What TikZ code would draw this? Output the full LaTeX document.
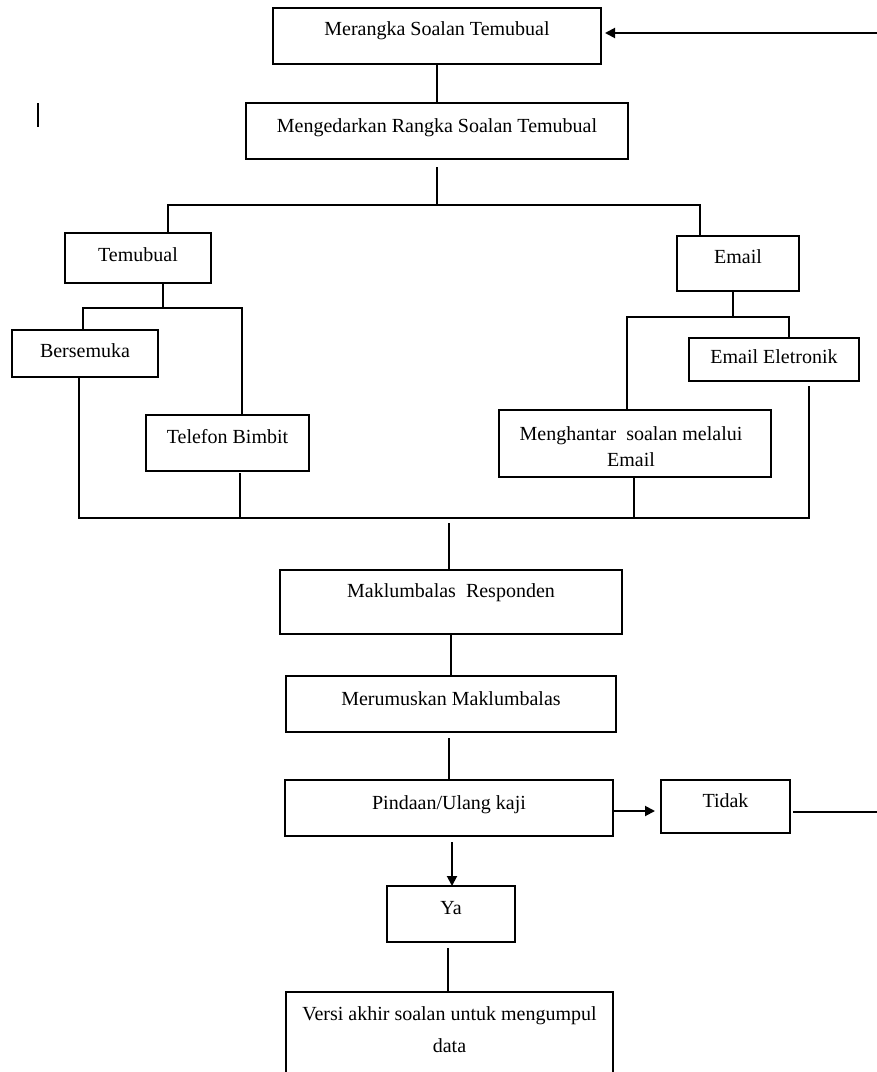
\documentclass[tikz,border=0pt]{standalone}
\usepackage{fontspec}
\setmainfont{Liberation Serif}
\usetikzlibrary{arrows.meta}
\begin{document}
\begin{tikzpicture}[x=1pt,y=-1pt,
  box/.style={draw, line width=1.9pt, rectangle, inner sep=0pt, outer sep=0pt},
  txt/.style={anchor=base, inner sep=0pt, font=\fontsize{20}{24}\selectfont},
  ln/.style={line width=1.9pt},
  arr/.style={line width=1.9pt, -{Triangle[length=10pt,width=10pt]}}]
\useasboundingbox (0,0) rectangle (877,1072);
% boxes
\node[box, minimum width=328pt, minimum height=56pt] (b1) at (437,36) {};
\node[box, minimum width=382pt, minimum height=56pt] (b2) at (437,131) {};
\node[box, minimum width=146pt, minimum height=50pt] (tem) at (138,258) {};
\node[box, minimum width=146pt, minimum height=47pt] (bers) at (85,353.5) {};
\node[box, minimum width=163pt, minimum height=56pt] (tel) at (227.5,443) {};
\node[box, minimum width=122pt, minimum height=55pt] (em) at (738,263.5) {};
\node[box, minimum width=170pt, minimum height=43pt] (eel) at (774,359.5) {};
\node[box, minimum width=272pt, minimum height=67pt] (meng) at (635,443.5) {};
\node[box, minimum width=342pt, minimum height=64pt] (mak) at (451,602) {};
\node[box, minimum width=330pt, minimum height=56pt] (mer) at (451,704) {};
\node[box, minimum width=328pt, minimum height=56pt] (pin) at (449,808) {};
\node[box, minimum width=128pt, minimum height=56pt] (ya) at (451,914) {};
\node[box, minimum width=129pt, minimum height=53pt] (tid) at (725.5,806.5) {};
\node[box, minimum width=327pt, minimum height=88pt] (ver) at (449.5,1036) {};
% texts
\node[txt] (b1t) at ([yshift=-27pt]b1.north) {Merangka Soalan Temubual};
\node[txt] (b2t) at ([yshift=-29pt]b2.north) {Mengedarkan Rangka Soalan Temubual};
\node[txt] (temt) at ([yshift=-28pt]tem.north) {Temubual};
\node[txt] (berst) at ([yshift=-27pt]bers.north) {Bersemuka};
\node[txt] (telt) at ([yshift=-28pt]tel.north) {Telefon Bimbit};
\node[txt] (emt) at ([yshift=-27pt]em.north) {Email};
\node[txt] (eelt) at ([yshift=-25pt]eel.north) {Email Eletronik};
\node[txt] (mengt1) at ([yshift=-30pt,xshift=-4pt]meng.north) {Menghantar\ \ soalan melalui};
\node[txt] (mengt2) at ([yshift=-56pt,xshift=-4pt]meng.north) {Email};
\node[txt] (makt) at ([yshift=-27pt]mak.north) {Maklumbalas\ \ Responden};
\node[txt] (mert) at ([yshift=-29pt]mer.north) {Merumuskan Maklumbalas};
\node[txt] (pint) at ([yshift=-29pt]pin.north) {Pindaan/Ulang kaji};
\node[txt] (yat) at ([yshift=-28pt]ya.north) {Ya};
\node[txt] (tidt) at ([yshift=-27pt]tid.north) {Tidak};
\node[txt] (vert1) at ([yshift=-28pt]ver.north) {Versi akhir soalan untuk mengumpul};
\node[txt] (vert2) at ([yshift=-60pt]ver.north) {data};
% junction coordinates
\coordinate (hL) at (168,205);
\coordinate (hR) at (700,205);
\coordinate (tj) at (163,308);
\coordinate (tl) at (83,308);
\coordinate (tr) at (242,308);
\coordinate (ej) at (733,317);
\coordinate (el) at (627,317);
\coordinate (er) at (789,317);
\coordinate (bl) at (79,518);
\coordinate (br) at (809,518);
\coordinate (tb) at (240,518);
\coordinate (mb) at (634,518);
\coordinate (mj) at (449,518);
\coordinate (re1) at (877,33);
\coordinate (re2) at (877,812);
\coordinate (pa) at (613,811);
% connectors
\draw[ln] (b1.south) -- (b2.north);
\draw[ln, shorten <=8pt] (b2.south) -- (b2.south |- hL);
\draw[ln] (hL |- tem.north) -- (hL) -- (hR) -- (hR |- em.north);
\draw[ln] (tj |- tem.south) -- (tj);
\draw[ln] (tl |- bers.north) -- (tl) -- (tr) -- (tr |- tel.north);
\draw[ln] (ej |- em.south) -- (ej);
\draw[ln] (el |- meng.north) -- (el) -- (er) -- (er |- eel.north);
\draw[ln, shorten >=5pt] (bl |- bers.south) -- (bl) -- (br) -- (br |- eel.south);
\draw[ln, shorten <=2pt] (tb |- tel.south) -- (tb);
\draw[ln] (mb |- meng.south) -- (mb);
\draw[ln, shorten <=5pt] (mj) -- (mj |- mak.north);
\draw[ln] (mak.south) -- (mer.north);
\draw[ln, shorten <=6pt] (pin.north |- mer.south) -- (pin.north);
\draw[arr, shorten <=6pt] ([xshift=3pt]pin.south) -- ([xshift=1pt]ya.north);
\draw[ln, shorten <=6pt] ([xshift=-3pt]ya.south) -- ([xshift=-1.5pt]ver.north);
\draw[arr, shorten >=6pt] (pa) -- (pa -| tid.west);
\draw[ln, shorten <=3pt] (tid.east |- re2) -- (re2);
\draw[arr, shorten >=4pt] (re1) -- (re1 -| b1.east);
% stray mark
\draw[line width=1.9pt] (38,103) -- (38,127);
\end{tikzpicture}
\end{document}
